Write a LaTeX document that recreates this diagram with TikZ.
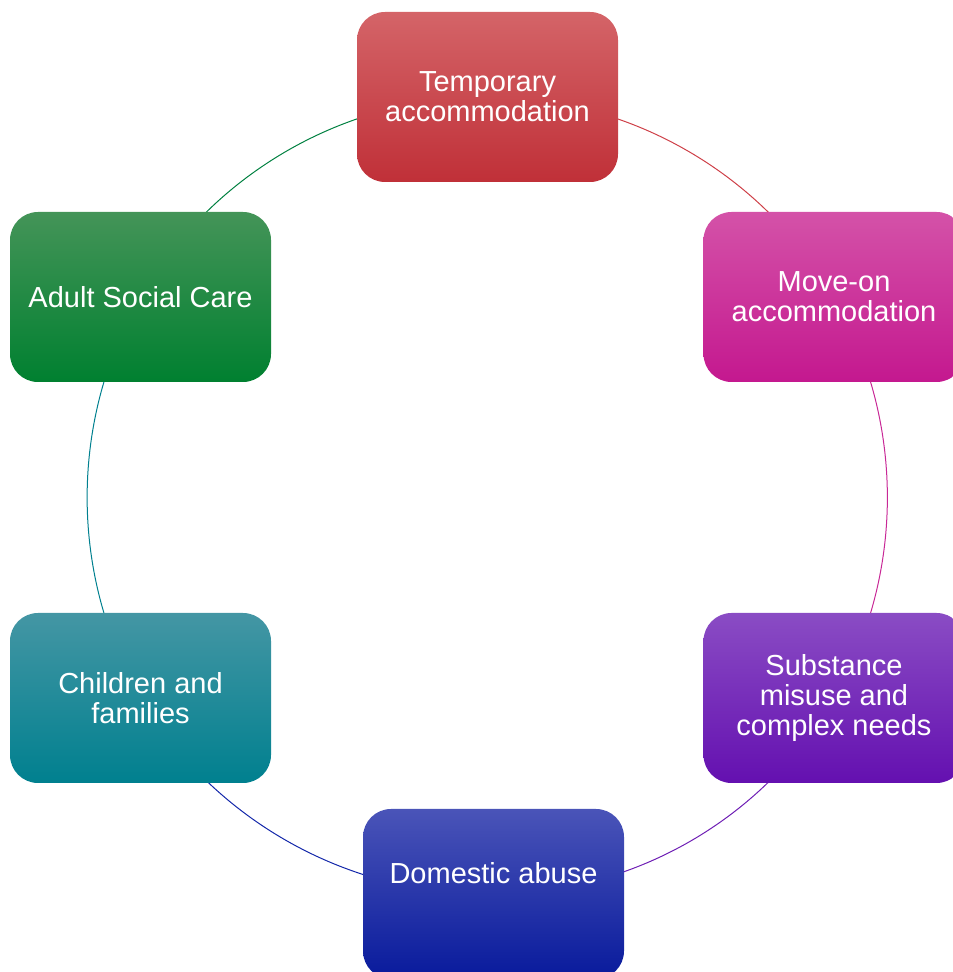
\documentclass[tikz,border=0pt]{standalone}
\usepackage{fontspec}
\setmainfont{Liberation Sans}
\usetikzlibrary{backgrounds}
\definecolor{redtop}{RGB}{212,100,104}
\definecolor{redbot}{RGB}{192,48,56}
\definecolor{redln}{RGB}{206,64,72}
\definecolor{magtop}{RGB}{212,82,168}
\definecolor{magbot}{RGB}{196,24,143}
\definecolor{magln}{RGB}{200,40,150}
\definecolor{purtop}{RGB}{138,76,196}
\definecolor{purbot}{RGB}{100,16,176}
\definecolor{purln}{RGB}{110,30,180}
\definecolor{blutop}{RGB}{74,84,184}
\definecolor{blubot}{RGB}{8,26,156}
\definecolor{bluln}{RGB}{20,40,170}
\definecolor{teatop}{RGB}{68,150,164}
\definecolor{teabot}{RGB}{0,128,143}
\definecolor{tealn}{RGB}{0,128,143}
\definecolor{gretop}{RGB}{68,148,88}
\definecolor{grebot}{RGB}{0,128,48}
\definecolor{greln}{RGB}{0,128,64}
\begin{document}
\begin{tikzpicture}[x=1pt,y=1pt,
  box/.style={rounded corners=28pt,minimum width=261pt,minimum height=170pt,inner sep=0pt,
    text=white,align=center,font=\fontsize{29}{30}\selectfont,
    top color=#1top,middle color=#1bot!75!#1top,bottom color=#1bot},
  link/.style={line width=1pt}]
\useasboundingbox (0,0) rectangle (953,972);
% boxes round the cycle
\node[box=red] (temp) at (487.5,875) {Temporary\\accommodation};
\node[box=mag] (moveon) at (834,675) {Move-on\\accommodation};
\node[box=pur] (subst) at (834,274) {Substance\\misuse and\\complex needs};
\node[box=blu,text height=21pt,text depth=42pt] (dom) at (493.5,78) {Domestic abuse};
\node[box=tea] (child) at (140.5,274) {Children and\\families};
\node[box=gre] (adult) at (140.5,675) {Adult Social Care};
% arcs behind the boxes
\begin{pgfonlayer}{background}
\draw[link,redln] (temp.center) to[bend left=30,looseness=0.91] (moveon.center);
\draw[link,magln] (moveon.center) to[bend left=30,looseness=0.91] (subst.center);
\draw[link,purln] (subst.center) to[bend left=30,looseness=0.91] (dom.center);
\draw[link,bluln] (dom.center) to[bend left=30,looseness=0.91] (child.center);
\draw[link,tealn] (child.center) to[bend left=30,looseness=0.91] (adult.center);
\draw[link,greln] (adult.center) to[bend left=30,looseness=0.91] (temp.center);
\end{pgfonlayer}
\end{tikzpicture}
\end{document}
